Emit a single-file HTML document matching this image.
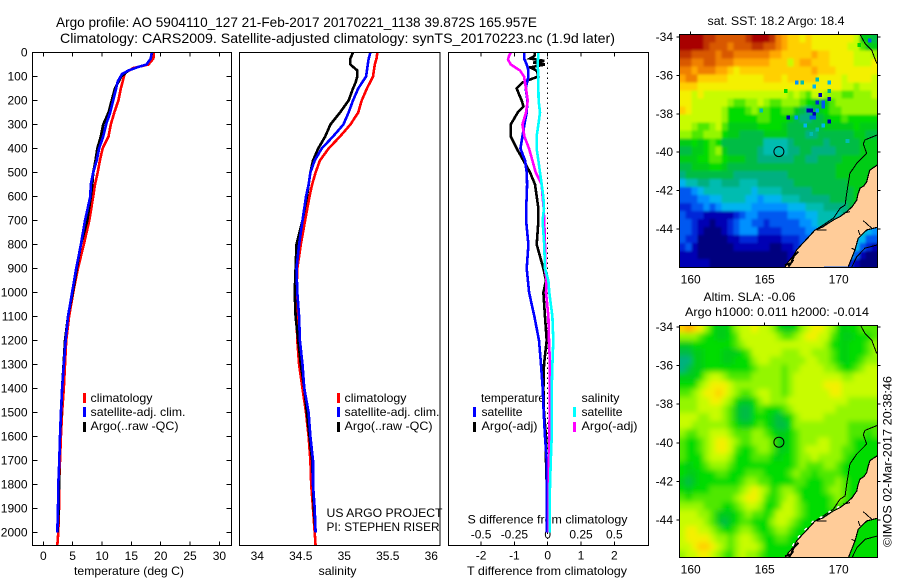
<!DOCTYPE html>
<html lang="en">
<head>
<meta charset="utf-8">
<title>Argo profile 5904110_127</title>
<style>
html,body{margin:0;padding:0;background:#fff;}
svg{display:block;}
text{font-family:"Liberation Sans",sans-serif;font-size:12px;fill:#000;}
.t14{font-size:14px;}
.crisp{shape-rendering:crispEdges;}
</style>
</head>
<body>
<svg xmlns="http://www.w3.org/2000/svg" width="900" height="580" viewBox="0 0 900 580">
  <rect x="0" y="0" width="900" height="580" fill="#fff"/>
  <text class="t14" x="56" y="27" textLength="481" lengthAdjust="spacingAndGlyphs">Argo profile: AO 5904110_127 21-Feb-2017 20170221_1138 39.872S 165.957E</text>
  <text class="t14" x="60" y="43" textLength="555" lengthAdjust="spacingAndGlyphs">Climatology: CARS2009. Satellite-adjusted climatology: synTS_20170223.nc (1.9d later)</text>

  <g>
    <rect class="crisp" x="83" y="393" width="3" height="10" fill="#f00"/>
    <rect class="crisp" x="83" y="407" width="3" height="10" fill="#00f"/>
    <rect class="crisp" x="83" y="422" width="3" height="10" fill="#000"/>
    <text x="90.5" y="402" textLength="62" lengthAdjust="spacingAndGlyphs">climatology</text>
    <text x="90.5" y="416" textLength="95" lengthAdjust="spacingAndGlyphs">satellite-adj. clim.</text>
    <text x="90.5" y="430" textLength="88" lengthAdjust="spacingAndGlyphs">Argo(..raw -QC)</text>
  </g>
  <g>
    <rect class="crisp" x="337" y="393" width="3" height="10" fill="#f00"/>
    <rect class="crisp" x="337" y="407" width="3" height="10" fill="#00f"/>
    <rect class="crisp" x="337" y="422" width="3" height="10" fill="#000"/>
    <text x="344.5" y="402" textLength="62" lengthAdjust="spacingAndGlyphs">climatology</text>
    <text x="344.5" y="416" textLength="95" lengthAdjust="spacingAndGlyphs">satellite-adj. clim.</text>
    <text x="344.5" y="430" textLength="88" lengthAdjust="spacingAndGlyphs">Argo(..raw -QC)</text>
    <text x="326.5" y="517" textLength="116" lengthAdjust="spacingAndGlyphs">US ARGO PROJECT</text>
    <text x="326.5" y="531" textLength="113" lengthAdjust="spacingAndGlyphs">PI: STEPHEN RISER</text>
  </g>
  <g>
    <text x="481" y="402" textLength="64" lengthAdjust="spacingAndGlyphs">temperature</text>
    <text x="581.5" y="402" textLength="38" lengthAdjust="spacingAndGlyphs">salinity</text>
    <rect class="crisp" x="473" y="407" width="3" height="10" fill="#00f"/>
    <rect class="crisp" x="473" y="422" width="3" height="10" fill="#000"/>
    <rect class="crisp" x="573" y="407" width="3" height="10" fill="#0ff"/>
    <rect class="crisp" x="573" y="422" width="3" height="10" fill="#f0f"/>
    <text x="481.5" y="416" textLength="41" lengthAdjust="spacingAndGlyphs">satellite</text>
    <text x="481.5" y="430" textLength="56" lengthAdjust="spacingAndGlyphs">Argo(-adj)</text>
    <text x="581.5" y="416" textLength="41" lengthAdjust="spacingAndGlyphs">satellite</text>
    <text x="581.5" y="430" textLength="56" lengthAdjust="spacingAndGlyphs">Argo(-adj)</text>
    <text x="467.5" y="523.5" textLength="160" lengthAdjust="spacingAndGlyphs">S difference from climatology</text>
  </g>
  <g id="s-labels"></g>

  <g id="curves"></g>
  <g id="axes"></g>

  <text x="74" y="575" textLength="110" lengthAdjust="spacingAndGlyphs">temperature (deg C)</text>
  <text x="318.5" y="575" textLength="38" lengthAdjust="spacingAndGlyphs">salinity</text>
  <text x="467" y="575" textLength="160" lengthAdjust="spacingAndGlyphs">T difference from climatology</text>

  <text x="707.5" y="25" textLength="137" lengthAdjust="spacingAndGlyphs">sat. SST: 18.2 Argo: 18.4</text>
  <text x="703.5" y="301" textLength="92" lengthAdjust="spacingAndGlyphs">Altim. SLA: -0.06</text>
  <text x="685" y="316" textLength="184" lengthAdjust="spacingAndGlyphs">Argo h1000: 0.011 h2000: -0.014</text>

  <defs>
    <clipPath id="clip-sst"><rect x="679.5" y="34.5" width="198" height="233"/></clipPath>
    <clipPath id="clip-sla"><rect x="679.5" y="325.5" width="198" height="232"/></clipPath>
    <filter id="soft-sst" filterUnits="userSpaceOnUse" x="650" y="10" width="260" height="285"><feGaussianBlur stdDeviation="1.3"/></filter>
    <filter id="soft-sla" filterUnits="userSpaceOnUse" x="650" y="300" width="260" height="285"><feGaussianBlur stdDeviation="2.6"/></filter>
  </defs>
  <g id="map-sst" clip-path="url(#clip-sst)">
    <g id="grid-sst" filter="url(#soft-sst)"></g>
  </g>
  <g id="map-sla" clip-path="url(#clip-sla)">
    <g id="grid-sla" filter="url(#soft-sla)"></g>
  </g>
  <g id="map-axes"></g>

  <text transform="translate(891.5,547) rotate(-90)" x="0" y="0" textLength="171" lengthAdjust="spacingAndGlyphs">©IMOS 02-Mar-2017 20:38:46</text>
</svg>

<script>
// ---------- profile data ----------
const depthTicks = [0,100,200,300,400,500,600,700,800,900,1000,1100,1200,1300,1400,1500,1600,1700,1800,1900,2000];
const tempTicks = [0,5,10,15,20,25,30];
const salTicks = [34,34.5,35,35.5,36];
const tDiffTicks = [-2,-1,0,1,2];
const sDiffTicks = [-0.5,-0.25,0,0.25,0.5];

const tempClimDepth = [0,25,50,65,85,124,150,200,250,300,350,400,450,500,550,600,700,800,900,1000,1100,1200,1300,1400,1500,1600,1700,1800,1900,2000,2054];
const tempClim = [18.86,18.75,17.9,15.3,13.9,13.5,13.2,12.8,12.1,11.5,11.1,10.1,9.65,9.26,8.8,8.5,7.84,6.9,5.9,5.1,4.4,3.9,3.7,3.5,3.2,3.0,2.85,2.7,2.67,2.55,2.39];
const tempSatDepth = [0,25,50,60,75,90,120,150,200,250,300,350,400,450,500,550,600,700,800,900,1000,1100,1200,1300,1400,1500,1600,1700,1800,1900,2000];
const tempSat = [18.46,18.3,17.6,16.2,14.5,13.4,12.7,12.4,11.9,11.4,10.7,10.2,9.5,9.1,8.5,8.1,8.0,7.1,6.4,5.6,4.9,4.2,3.8,3.5,3.2,3.0,2.85,2.73,2.56,2.5,2.39];
const tempArgoDepth = [0,25,50,60,75,100,150,200,250,300,350,400,450,500,550,600,700,800,900,1000,1100,1200,1300,1400,1500,1600,1700,1800,1900,2000];
const tempArgo = [18.5,18.3,17.6,16.2,14.5,13.3,12.2,11.65,11.1,10.2,9.8,9.2,8.9,8.5,8.35,8.1,7.5,6.4,5.7,5,4.2,3.7,3.45,3.2,3.05,2.85,2.73,2.67,2.64,2.42];

const salDepth = [0,25,50,100,150,200,250,300,350,400,450,500,550,600,700,800,900,1000,1100,1200,1300,1400,1500,1600,1700,1800,1900,2000];
const salClimDepth = [0,25,50,100,150,200,250,300,350,400,450,500,550,600,700,800,900,1000,1100,1200,1300,1400,1500,1600,1700,1800,1900,2000,2054];
const salClim = [35.38,35.37,35.35,35.33,35.26,35.2,35.16,35.07,34.95,34.82,34.72,34.67,34.63,34.6,34.55,34.5,34.46,34.45,34.45,34.46,34.48,34.52,34.56,34.59,34.61,34.62,34.64,34.66,34.67];
const salSat = [35.3,35.28,35.27,35.25,35.16,35.1,35.05,34.99,34.87,34.74,34.66,34.61,34.59,34.56,34.52,34.48,34.45,34.46,34.48,34.49,34.52,34.54,34.59,34.61,34.64,34.64,34.66,34.67];
const salArgoDepth = [0,25,50,75,100,125,150,200,250,300,350,400,450,500,600,700,800,900,1000,1100,1200,1300,1400,1500,1600,1700,1800,1900,2000];
const salArgo = [35.1,35.07,35.07,35.15,35.15,35.13,35.1,35.05,34.95,34.84,34.78,34.7,34.64,34.61,34.57,34.52,34.45,34.44,34.43,34.44,34.47,34.5,34.54,34.57,34.6,34.63,34.64,34.65,34.67];

const dTSatDepth = [0,25,50,75,100,150,200,250,300,350,400,450,500,550,600,650,700,800,900,1000,1100,1200,1300,1400,1500,1600,1700,1800,1900,2000];
const dTSat = [-0.7,-0.71,-0.63,-0.58,-0.58,-0.66,-0.61,-0.63,-0.7,-0.76,-0.82,-0.68,-0.63,-0.62,-0.63,-0.65,-0.65,-0.58,-0.63,-0.56,-0.4,-0.26,-0.2,-0.15,-0.12,-0.08,-0.03,-0.03,-0.03,-0.03];
const dTArgoDepth = [0,15,25,35,42,50,62,75,100,110,125,150,175,200,225,250,300,350,400,450,500,550,600,650,700,800,900,950,1000,1100,1200,1300,1400,1500,1600,1700,1800,2000];
const dTArgo = [-0.38,-0.4,-0.53,-0.1,-0.43,-0.08,-0.53,-0.33,-0.28,-0.48,-0.76,-0.93,-0.86,-0.78,-0.73,-0.9,-1.11,-1.11,-0.93,-0.73,-0.53,-0.38,-0.33,-0.28,-0.28,-0.33,-0.13,-0.05,-0.13,-0.08,-0.03,-0.11,-0.13,-0.11,-0.05,-0.05,-0.03,-0.03];
const dSSatDepth = [0,50,100,150,200,250,300,350,400,450,500,550,600,650,700,800,900,950,1000,1100,1200,1300,1400,1500,1600,1700,1800,1900,2000];
const dSSat = [-0.07,-0.075,-0.07,-0.07,-0.068,-0.058,-0.07,-0.083,-0.083,-0.07,-0.058,-0.045,-0.033,-0.028,-0.038,-0.026,-0.02,0.005,0.012,0.035,0.042,0.035,0.03,0.03,0.03,0.023,0.017,0.015,0.015];
const dSArgoDepth = [0,15,30,50,75,100,150,200,250,300,350,400,450,500,550,600,650,700,800,900,950,1000,1100,1200,1300,1400,1700,1800,1900,2000];
const dSArgo = [-0.277,-0.29,-0.298,-0.277,-0.208,-0.178,-0.163,-0.15,-0.163,-0.19,-0.175,-0.14,-0.115,-0.09,-0.045,-0.038,-0.03,-0.026,-0.02,-0.02,-0.008,-0.013,0.005,0.01,0.017,0.017,0.01,0.008,0.008,0.008];

// ---------- map data (colour level per grid cell, north to south) ----------
const lonTicks = [160,165,170];
const latTicks = [-34,-36,-38,-40,-42,-44];
const levelColors = ['#00007f','#0000b4','#0028d8','#0058f0','#0090ff','#00b4f0','#00bcb0','#00b080','#00bc44','#00cc18','#00dc00','#50e800','#94f600','#c8fc00','#f4f000','#ffd000','#ffa800','#f08000','#d85800','#c03000','#a80000'];
const sstLevels = [
[20,20,20,20,19,19,18,18,18,18,18,19,20,20,20,19,17,16,15,15,14,15,14,14,14,14,14,14,14,13,9,9,8],
[20,20,20,20,19,18,18,18,17,18,18,18,19,19,18,18,17,16,15,15,15,15,14,14,14,14,14,14,13,13,11,9,9],
[19,19,18,18,18,18,17,18,18,17,17,17,17,17,17,16,16,15,15,15,15,15,16,15,15,14,14,14,14,13,13,13,12],
[18,18,17,17,18,18,17,17,17,16,16,16,16,16,16,15,15,15,13,15,16,16,15,15,15,14,14,14,14,13,13,13,14],
[17,17,16,17,17,17,16,16,15,14,15,15,15,15,15,15,15,15,15,15,15,15,16,15,15,15,14,14,14,14,14,14,14],
[16,17,17,15,15,15,15,15,14,14,14,14,14,14,15,15,15,14,15,15,15,15,15,14,14,14,14,13,14,14,14,14,13],
[15,15,15,14,14,14,14,14,14,14,14,14,14,14,14,14,14,14,14,14,14,14,14,14,14,14,14,13,13,12,13,13,13],
[14,14,13,14,13,13,13,13,13,13,13,13,13,13,13,13,13,13,12,13,12,11,13,13,12,12,12,11,11,12,12,12,13],
[14,14,13,13,13,13,13,13,12,11,11,12,12,13,12,11,11,12,12,12,11,10,9,8,9,11,12,12,12,12,12,12,12],
[15,14,13,13,13,13,13,12,10,10,10,11,12,11,11,10,10,11,11,9,8,7,8,9,10,11,11,12,12,12,12,12,12],
[13,13,13,13,13,13,13,12,10,10,10,10,10,11,11,10,10,10,9,8,7,7,8,8,9,10,10,11,10,10,10,10,10],
[13,13,12,11,11,12,13,11,9,9,9,9,9,10,10,10,10,9,8,8,8,8,8,8,9,9,9,9,9,10,9,9,9],
[12,12,11,11,12,12,12,10,9,9,8,8,8,8,9,9,9,9,8,8,8,7,7,8,8,8,8,8,8,9,9,8,8],
[9,9,10,9,10,11,10,8,8,8,8,8,8,8,6,6,6,6,7,8,8,8,8,8,7,8,8,8,8,8,9,9,9],
[8,8,9,9,10,11,12,9,8,8,8,8,8,7,6,6,6,6,7,7,8,8,7,7,7,7,8,8,8,8,9,9,9],
[9,9,9,10,10,11,11,10,9,9,9,8,8,7,7,7,7,7,7,8,8,7,7,8,8,8,8,9,9,9,9,9,9],
[8,8,9,9,9,10,10,9,8,8,8,8,8,8,8,8,8,8,8,8,8,8,8,8,8,8,9,9,9,9,9,9,9],
[7,8,8,8,8,8,8,8,8,7,7,7,7,7,7,7,7,7,8,8,8,8,8,8,8,8,9,9,9,9,9,9,9],
[5,6,6,7,7,6,6,7,7,7,6,6,6,7,7,7,7,7,7,8,8,8,8,8,8,8,8,8,9,9,9,9,9],
[3,3,4,5,6,6,6,6,6,6,6,6,5,6,6,6,6,7,7,7,7,7,8,8,8,8,8,8,8,9,9,9,9],
[3,3,3,4,4,5,5,6,6,6,6,5,5,4,5,5,5,6,6,6,7,7,7,7,7,8,8,8,8,9,5,5,5],
[2,2,3,3,4,3,4,5,5,5,5,5,4,4,4,4,4,4,5,5,5,6,6,6,7,7,7,7,8,9,5,5,5],
[3,2,2,2,1,1,1,1,1,2,3,4,4,3,3,3,3,3,4,4,4,5,5,6,6,6,6,7,7,7,5,5,5],
[3,3,2,1,1,0,1,1,2,3,4,4,3,3,2,3,3,3,3,3,4,4,5,6,6,6,7,7,7,7,5,5,5],
[3,3,2,1,0,0,0,1,2,3,4,4,4,2,2,2,2,3,3,3,3,4,4,5,6,6,6,6,6,6,6,5,4],
[3,2,2,0,0,0,0,0,1,1,2,2,2,1,1,1,1,2,2,2,3,3,4,5,5,5,5,5,5,5,5,3,3],
[2,3,1,0,0,0,0,0,0,1,1,1,1,1,1,0,0,1,1,2,3,3,4,4,5,5,5,5,5,5,3,2,1],
[1,1,1,0,0,0,0,0,0,0,0,0,0,0,0,0,0,0,1,1,2,3,4,4,4,4,4,4,5,3,1,0,0],
[1,1,1,1,1,0,0,0,0,0,0,0,0,0,0,0,0,0,1,1,1,2,3,3,3,3,3,3,2,1,0,0,0]
];
const slaLevels = [
[15,16,15,14,12,10,9,9,10,12,13,13,14,13,13,12,10,9,9,10,12,13,14,14,13,12,10,9,10,10,11,11,11],
[12,12,12,11,10,10,9,9,10,11,13,13,13,13,13,13,12,11,11,12,13,14,14,13,13,11,10,9,9,10,10,10,11],
[9,9,10,10,10,10,10,10,10,11,12,13,13,13,13,13,13,13,13,13,13,13,13,13,12,10,10,9,10,10,10,11,12],
[8,8,9,9,10,10,10,9,9,9,10,11,13,13,13,13,13,12,12,12,13,13,12,12,12,11,10,9,10,10,10,11,12],
[7,7,9,9,10,10,10,9,9,10,10,10,12,13,13,12,12,12,12,12,12,13,13,12,12,11,10,9,10,10,11,12,12],
[7,8,9,9,10,10,10,10,10,10,10,10,11,12,12,12,12,11,12,12,13,13,13,13,12,12,11,10,10,11,12,13,13],
[9,9,9,10,12,13,13,12,11,11,11,11,12,12,12,12,12,11,12,13,13,13,13,13,13,13,13,12,12,13,13,13,13],
[10,10,10,12,13,14,14,14,13,12,12,12,12,12,12,12,12,11,12,13,13,13,13,13,14,14,14,13,13,13,13,13,13],
[11,11,12,13,14,14,15,14,13,12,11,11,12,13,13,12,12,11,12,13,13,13,13,13,13,14,14,13,13,13,13,13,13],
[12,12,12,13,13,14,14,13,12,10,9,9,10,12,13,12,12,12,13,13,13,13,13,13,13,13,13,13,12,12,12,12,12],
[12,12,12,13,13,13,13,12,11,9,8,8,10,11,10,10,10,11,12,13,13,13,13,13,13,13,12,12,12,12,12,12,12],
[13,13,13,12,12,13,13,12,11,9,8,8,10,10,10,9,8,9,10,12,13,13,13,13,12,12,12,12,12,12,12,12,12],
[13,13,12,12,12,12,12,12,11,10,9,9,10,11,10,9,8,8,10,12,12,12,12,12,12,12,12,12,11,11,11,11,11],
[12,11,11,12,12,13,13,13,12,11,11,11,12,12,11,10,9,9,10,11,12,12,12,12,12,12,12,12,11,11,11,10,11],
[11,10,10,11,12,13,14,14,13,12,11,11,12,12,12,11,9,9,10,11,12,12,12,13,13,12,12,12,11,10,10,10,10],
[11,10,10,11,12,13,14,14,13,11,10,10,11,12,12,11,9,9,10,11,12,13,13,13,13,12,12,11,11,10,10,10,10],
[11,10,10,10,12,13,13,13,12,10,10,10,11,11,11,10,9,10,10,11,12,12,13,12,12,12,12,11,10,10,10,10,10],
[10,9,10,10,11,12,12,12,11,10,10,10,10,10,10,10,10,10,10,11,12,11,11,11,12,12,11,10,10,10,10,10,10],
[10,9,9,10,10,10,11,11,10,10,10,11,11,11,10,10,10,10,11,12,11,11,10,11,11,11,11,10,10,10,10,10,10],
[9,8,9,10,10,10,10,10,10,10,11,12,12,11,11,10,10,10,10,11,11,10,10,10,11,11,12,11,10,10,10,10,10],
[10,9,10,10,10,11,11,11,11,11,12,13,14,13,12,10,11,12,12,11,10,10,10,10,11,12,12,11,10,10,10,10,10],
[11,10,11,11,11,11,11,11,11,12,13,14,14,13,11,10,11,12,13,12,10,10,10,10,10,11,12,11,10,10,10,10,10],
[12,12,12,12,11,11,11,10,10,11,12,13,13,12,10,10,11,13,13,12,11,10,10,10,10,11,11,10,10,10,10,10,10],
[13,13,13,12,12,11,9,9,9,10,11,12,11,11,10,11,13,13,13,12,11,10,10,10,10,10,10,10,10,10,10,10,10],
[13,13,13,13,12,11,9,8,9,10,11,11,10,10,10,12,13,13,12,11,10,10,10,10,10,10,10,10,10,10,10,10,10],
[13,14,14,13,13,12,11,10,10,11,12,12,11,10,10,11,12,12,11,10,10,10,10,10,10,10,10,10,10,10,10,10,10],
[13,14,14,14,14,13,12,12,11,12,13,13,12,11,10,10,11,11,10,10,10,10,10,10,10,10,10,10,10,10,10,10,10],
[13,13,14,15,15,14,13,12,11,12,13,13,13,12,10,10,10,10,10,10,10,10,10,10,10,10,10,10,10,10,10,10,10],
[12,13,13,14,14,13,12,11,10,12,13,12,12,11,10,10,10,10,10,10,10,10,10,10,10,10,10,10,10,10,10,10,10]
];
// isolated outlier SST pixels: lon, lat, colour level
const spikeLon = [167.16,167.54,168.55,169.37,168.35,166.42,168.76,169.37,168.55,169.37,168.96,168.96,167.95,168.15,168.35,168.55,168.15,168.35,166.6,167.14,169.37,167.74,168.96,168.55,168.15,164.77,171.39,172.11,170.6];
const spikeLat = [-36.38,-36.38,-36.21,-36.38,-36.59,-36.81,-37.02,-36.8,-37.42,-37.23,-37.42,-37.63,-37.84,-37.84,-38.01,-37.84,-38.2,-38.2,-38.2,-38.2,-38.41,-38.62,-38.62,-38.83,-39.04,-37.84,-34.42,-34.19,-39.42];
const spikeLevel = [4,6,6,5,5,10,1,7,2,1,3,3,1,1,1,4,3,3,1,4,1,5,5,6,6,6,10,3,6];

const coastWestLon = [166.37,166.6,166.95,167.16,167.5,167.95,168.4,168.9,169.64,170.1,170.54,170.9,171.22,171.3,171.44,171.7,171.89,172.0,172.11,172.35,172.61];
const coastWestLat = [-45.98,-45.7,-45.4,-45.09,-44.8,-44.43,-44.05,-43.9,-43.53,-43.35,-43.1,-42.85,-42.49,-42.2,-41.88,-41.75,-41.54,-41.2,-40.93,-40.8,-40.67];
const coastEastLon = [172.61,171.89,171.32,171.1,170.65];
const coastEastLat = [-43.91,-44.05,-44.48,-45.09,-45.96];
const shelfALon = [172.61,171.78,171.66,171.89,171.22,170.76,170.54,170.43,170.09,169.64,168.96,168.4];
const shelfALat = [-39.1,-39.36,-39.57,-40.06,-40.58,-41.1,-42.14,-42.75,-42.92,-43.44,-43.79,-44.05];
const shelfBLon = [172.61,171.78,171.22,170.88];
const shelfBLat = [-44.83,-45.0,-45.44,-45.99];
const shelfCLon = [171.44,171.78,172.23,172.57];
const shelfCLat = [-33.86,-34.33,-34.68,-35.37];
const spurLonA = [171.66,171.32,170.88,169.19,170.76,167.05,167.27,166.71,166.93];
const spurLatA = [-43.57,-44.05,-45.0,-44.05,-43.1,-45.27,-45.18,-45.79,-45.61];
const spurLonB = [172.23,171.44,171.1,168.51,170.31,166.82,166.93,166.37,166.6];
const spurLatB = [-43.96,-44.31,-45.09,-44.05,-43.18,-45.7,-45.44,-45.88,-45.96];
const surfLon = [166.95,167.16,167.5,167.95,168.4,168.9,169.64,170.1];
const surfLat = [-45.4,-45.09,-44.8,-44.43,-44.05,-43.9,-43.53,-43.35];
const floatLon = 165.957;
const floatLat = -39.97;

// ---------- axis functions ----------
const depthY = d => 52.5 + 0.24 * d;
const tempX = t => 43.3 + 5.87 * t;
const salX = s => 257.3 + 87 * (s - 34);
const dTX = t => 547.7 + 33.3 * t;
const dSX = s => 547.7 + 133.3 * s;
const lonX = lon => 690.7 + 14.8 * (lon - 160);
const sstLatY = lat => 37 + 19.2 * (-34 - lat);
const slaLatY = lat => 327 + 19.3 * (-34 - lat);

const SVGNS = 'http://www.w3.org/2000/svg';
function mk(parent, tag, attrs) {
  const el = document.createElementNS(SVGNS, tag);
  for (const k in attrs) el.setAttribute(k, attrs[k]);
  parent.appendChild(el);
  return el;
}
function hairline(parent, x1, y1, x2, y2, name) {
  const el = mk(parent, 'line', {x1: x1, y1: y1, x2: x2, y2: y2, stroke: '#000', 'stroke-width': 1, 'shape-rendering': 'crispEdges'});
  
  
  return el;
}
function label(parent, str, x, y, anchor, name) {
  const el = mk(parent, 'text', {x: x, y: y, 'text-anchor': anchor});
  el.textContent = str;
  
  
  return el;
}
function curve(xs, ys, xFn, color, name) {
  const pts = xs.map((v, i) => xFn(v).toFixed(1) + ',' + depthY(ys[i]).toFixed(1)).join(' ');
  const el = mk(document.getElementById('curves'), 'polyline', {points: pts, fill: 'none', stroke: color, 'stroke-width': 2.6, 'shape-rendering': 'crispEdges'});
  
  
}
function frame(parent, x1, x2, y1, y2, name) {
  const el = mk(parent, 'rect', {x: x1, y: y1, width: x2 - x1, height: y2 - y1, fill: 'none', stroke: '#000', 'stroke-width': 1, 'shape-rendering': 'crispEdges'});
  
  
}

// ---------- zero line and curves (legend text sits beneath) ----------
const curvesG = document.getElementById('curves');
const zero = mk(curvesG, 'line', {x1: dTX(0), y1: 52.5, x2: dTX(0), y2: 545.5, stroke: '#000', 'stroke-width': 1, 'stroke-dasharray': '1.5 3.5', 'shape-rendering': 'crispEdges'});



curve(tempClim, tempClimDepth, tempX, '#f00', 'temperature-climatology-line');
curve(tempArgo, tempArgoDepth, tempX, '#000', 'temperature-argo-line');
curve(tempSat, tempSatDepth, tempX, '#00f', 'temperature-satellite-line');
curve(salClim, salClimDepth, salX, '#f00', 'salinity-climatology-line');
curve(salArgo, salArgoDepth, salX, '#000', 'salinity-argo-line');
curve(salSat, salDepth, salX, '#00f', 'salinity-satellite-line');
curve(dTArgo, dTArgoDepth, dTX, '#000', 'temp-diff-argo-line');
curve(dTSat, dTSatDepth, dTX, '#00f', 'temp-diff-satellite-line');
curve(dSArgo, dSArgoDepth, dSX, '#f0f', 'sal-diff-argo-line');
curve(dSSat, dSSatDepth, dSX, '#0ff', 'sal-diff-satellite-line');

// ---------- profile axes ----------
const axesG = document.getElementById('axes');
frame(axesG, 32.5, 231.5, 52.5, 545.5, 'temperature-plot-frame');
frame(axesG, 239.5, 440, 52.5, 545.5, 'salinity-plot-frame');
frame(axesG, 448.5, 648.5, 52.5, 545.5, 'difference-plot-frame');
depthTicks.forEach(d => {
  const y = depthY(d);
  hairline(axesG, 32.5, y, 37.5, y, 'depth-tick-left');
  hairline(axesG, 226.5, y, 231.5, y, 'depth-tick-right');
  label(axesG, String(d), 27.5, y + 4, 'end', 'depth-tick-label');
});
tempTicks.forEach(t => {
  hairline(axesG, tempX(t), 52.5, tempX(t), 56.5, 'temperature-tick-top');
  hairline(axesG, tempX(t), 541.5, tempX(t), 545.5, 'temperature-tick-bottom');
  label(axesG, String(t), tempX(t), 560, 'middle', 'temperature-tick-label');
});
salTicks.forEach(s => {
  label(axesG, String(s), salX(s), 560, 'middle', 'salinity-tick-label');
});
tDiffTicks.forEach(t => {
  hairline(axesG, dTX(t), 52.5, dTX(t), 56.5, 'temp-diff-tick-top');
  hairline(axesG, dTX(t), 541.5, dTX(t), 545.5, 'temp-diff-tick-bottom');
  label(axesG, String(t), dTX(t), 559.5, 'middle', 'temp-diff-tick-label');
});
const sLabels = document.getElementById('s-labels');
sDiffTicks.forEach(s => {
  label(sLabels, String(s), dSX(s), 538.5, 'middle', 's-diff-tick-label');
});

// ---------- maps ----------
const lonMin = 159.23, lonMax = 172.61, latMax = -33.86, latMin = -45.99;
function drawGrid(g, levels, latY) {
  const nRows = levels.length;
  const dLat = (latMax - latMin) / nRows;
  levels.forEach((row, r) => {
    const dLon = (lonMax - lonMin) / row.length;
    row.forEach((lv, c) => {
      // outer cells run past the frame so edge softening never fades to white
      const x0 = lonX(lonMin + c * dLon) - (c === 0 ? 12 : 0);
      const x1 = lonX(lonMin + (c + 1) * dLon) + (c === row.length - 1 ? 12 : 0);
      const y0 = latY(latMax - r * dLat) - (r === 0 ? 12 : 0);
      const y1 = latY(latMax - (r + 1) * dLat) + (r === nRows - 1 ? 12 : 0);
      const cell = mk(g, 'rect', {x: x0.toFixed(2), y: y0.toFixed(2), width: (x1 - x0 + 0.4).toFixed(2), height: (y1 - y0 + 0.4).toFixed(2), fill: levelColors[lv], 'shape-rendering': 'crispEdges'});
      
      
    });
  });
}
function lineOf(g, lons, lats, latY, name, width) {
  const pts = lons.map((v, i) => lonX(v).toFixed(1) + ',' + latY(lats[i]).toFixed(1)).join(' ');
  const el = mk(g, 'polyline', {points: pts, fill: 'none', stroke: '#000', 'stroke-width': width, 'shape-rendering': 'crispEdges'});
  
  
  return el;
}
function drawGeo(g, latY) {
  const lons = coastWestLon.concat(coastEastLon);
  const lats = coastWestLat.concat(coastEastLat);
  const pts = lons.map((v, i) => lonX(v).toFixed(1) + ',' + latY(lats[i]).toFixed(1)).join(' ');
  const land = mk(g, 'polygon', {points: pts, fill: '#ffcc99', stroke: 'none', 'shape-rendering': 'crispEdges'});
  
  
  lineOf(g, coastWestLon, coastWestLat, latY, 'coastline-west', 1.2);
  lineOf(g, coastEastLon, coastEastLat, latY, 'coastline-east', 1.2);
  lineOf(g, shelfALon, shelfALat, latY, 'shelf-contour-west', 1);
  lineOf(g, shelfBLon, shelfBLat, latY, 'shelf-contour-south', 1);
  lineOf(g, shelfCLon, shelfCLat, latY, 'shelf-contour-north', 1);
  spurLonA.forEach((v, i) => {
    const isFjord = i >= 5;
    lineOf(g, [v, spurLonB[i]], [spurLatA[i], spurLatB[i]], latY, 'coast-inlet', isFjord ? 2 : 1);
  });
  const c = mk(g, 'circle', {cx: lonX(floatLon).toFixed(1), cy: latY(floatLat).toFixed(1), r: 5, fill: 'none', stroke: '#000', 'stroke-width': 1});
  
  
}
const sstG = document.getElementById('map-sst');
const slaG = document.getElementById('map-sla');
drawGrid(document.getElementById('grid-sst'), sstLevels, sstLatY);
spikeLon.forEach((lon, i) => {
  const s = mk(sstG, 'rect', {x: (lonX(lon) - 1.9).toFixed(1), y: (sstLatY(spikeLat[i]) - 2).toFixed(1), width: 3.7, height: 4, fill: levelColors[spikeLevel[i]], 'shape-rendering': 'crispEdges'});
  
  
});
drawGeo(sstG, sstLatY);
drawGrid(document.getElementById('grid-sla'), slaLevels, slaLatY);
drawGeo(slaG, slaLatY);
const surf = lineOf(slaG, surfLon, surfLat, slaLatY, 'coast-white-gaps', 1.5);
surf.setAttribute('stroke', '#fff');
surf.setAttribute('stroke-dasharray', '3 7');
surf.setAttribute('transform', 'translate(-1,-1)');

// ---------- map axes ----------
const mapAxes = document.getElementById('map-axes');
function mapAxis(top, bottom, latY, labelY, prefix) {
  frame(mapAxes, 679.5, 877.5, top, bottom, prefix + '-map-frame');
  latTicks.forEach(lat => {
    const y = latY(lat);
    hairline(mapAxes, 676.5, y, 679.5, y, prefix + '-lat-tick-left');
    hairline(mapAxes, 877.5, y, 880.5, y, prefix + '-lat-tick-right');
    label(mapAxes, String(lat), 673, y + 4, 'end', prefix + '-lat-tick-label');
  });
  lonTicks.forEach(lon => {
    hairline(mapAxes, lonX(lon), top - 3, lonX(lon), top, prefix + '-lon-tick');
    label(mapAxes, String(lon), lonX(lon), labelY, 'middle', prefix + '-lon-tick-label');
  });
}
mapAxis(34.5, 267.5, sstLatY, 283.5, 'sst');
mapAxis(325.5, 557.5, slaLatY, 573.5, 'sla');
</script>
</body>
</html>
